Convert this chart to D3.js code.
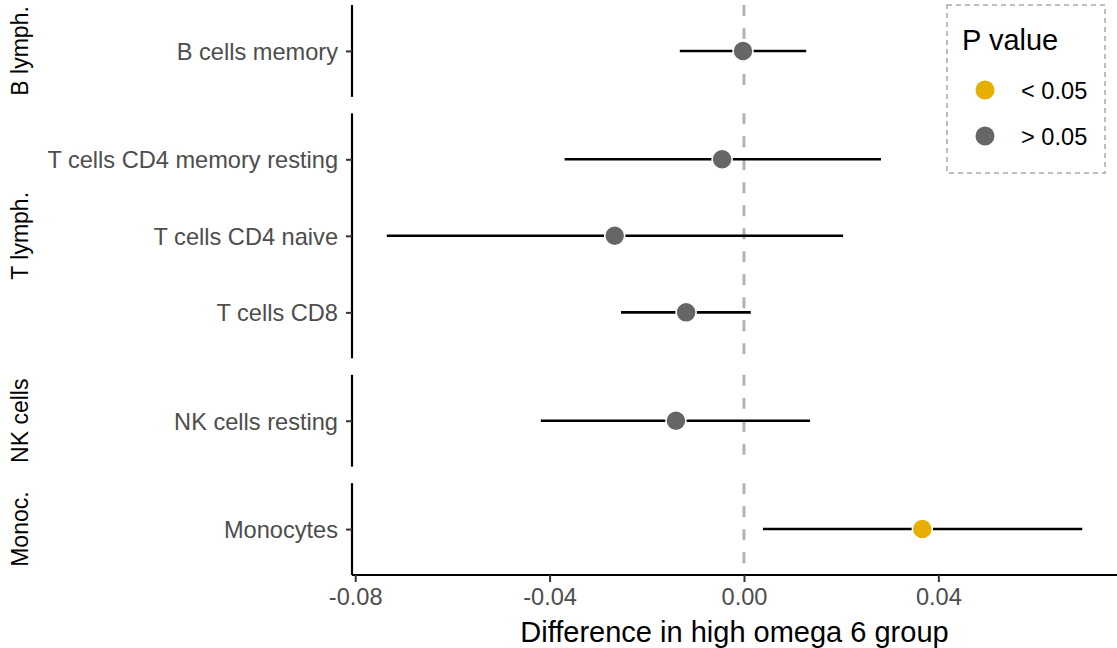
<!DOCTYPE html>
<html>
<head>
<meta charset="utf-8">
<script src="https://cdn.jsdelivr.net/npm/d3@7"></script>
<style>
    body { margin: 0; background: #fff; }
    svg { font-family: "Liberation Sans", Arial, Helvetica, sans-serif; }
</style>
</head>
<body>
<script>
// cell types, grouped by lineage (one facet each)
const groups = ["B lymph.", "T lymph.", "NK cells", "Monoc."];
const cellTypes = ["B cells memory", "T cells CD4 memory resting", "T cells CD4 naive",
                   "T cells CD8", "NK cells resting", "Monocytes"];
const cellGroup = ["B lymph.", "T lymph.", "T lymph.", "T lymph.", "NK cells", "Monoc."];
const estimate = [-0.0002, -0.0045, -0.0266, -0.0119, -0.0140, 0.0367];
const lower    = [-0.0132, -0.0369, -0.0735, -0.0253, -0.0418, 0.0039];
const upper    = [ 0.0128,  0.0282,  0.0204,  0.0014,  0.0136, 0.0696];
const pValue   = ["> 0.05", "> 0.05", "> 0.05", "> 0.05", "> 0.05", "< 0.05"];
const pLevels  = ["< 0.05", "> 0.05"];
const xTicks   = [-0.08, -0.04, 0, 0.04];

const width = 1117, height = 648;
const panel = { left: 352, right: 1117, top: 5, bottom: 575 };
const gap = 16.5;

let data = cellTypes.map((c, i) => ({
    cell: c, group: cellGroup[i], est: estimate[i],
    lo: lower[i], hi: upper[i], p: pValue[i]
}));

let svg = d3.select("body")
    .append("svg")
        .attr("width", width)
        .attr("height", height);

// x scale with ggplot style 5% expansion
let xmin = d3.min(lower), xmax = d3.max(upper);
let pad = (xmax - xmin) * 0.05;
let xScale = d3.scaleLinear()
    .domain([xmin - pad, xmax + pad])
    .range([panel.left, panel.right]);

let colorScale = d3.scaleOrdinal()
    .domain(pLevels)
    .range(["#E7B000", "#666666"]);

// free space facets: height proportional to number of rows + 1.2 expansion
let units = groups.map(g => data.filter(d => d.group == g).length - 1 + 1.2);
let perUnit = (panel.bottom - panel.top - gap * (groups.length - 1)) / d3.sum(units);

let y0 = panel.top;
groups.forEach((g, gi) => {
    let rows = data.filter(d => d.group == g);
    let h = units[gi] * perUnit;
    let yScale = d3.scalePoint()
        .domain(rows.map(d => d.cell))
        .range([y0, y0 + h])
        .padding(0.6);

    let pg = svg.append("g").attr("class", "panel");

    // reference line at zero
    pg.append("line")
        .attr("x1", xScale(0)).attr("x2", xScale(0))
        .attr("y1", y0).attr("y2", y0 + h)
        .attr("stroke", "#b3b3b3")
        .attr("stroke-width", 3)
        .attr("stroke-dasharray", "11,12");

    pg.selectAll("line.ci")
        .data(rows)
        .enter()
            .append("line")
            .attr("class", "ci")
            .attr("x1", d => xScale(d.lo))
            .attr("x2", d => xScale(d.hi))
            .attr("y1", d => yScale(d.cell))
            .attr("y2", d => yScale(d.cell))
            .attr("stroke", "#000")
            .attr("stroke-width", 2.6);

    pg.selectAll("circle")
        .data(rows)
        .enter()
            .append("circle")
            .attr("cx", d => xScale(d.est))
            .attr("cy", d => yScale(d.cell))
            .attr("r", 10)
            .attr("fill", d => colorScale(d.p))
            .attr("stroke", "#fff")
            .attr("stroke-width", 1.5);

    // y axis for this facet
    let yAxis = d3.axisLeft(yScale).tickSize(6).tickPadding(8);
    let ga = svg.append("g")
        .attr("class", "yAxis")
        .attr("transform", `translate(${panel.left}, 0)`)
        .call(yAxis);
    ga.select("path.domain")
        .attr("d", `M0,${y0}V${y0 + h}`)
        .attr("stroke", "#000")
        .attr("stroke-width", 2.2);
    ga.selectAll("g.tick line").attr("stroke", "#333").attr("stroke-width", 2);
    ga.selectAll("g.tick text")
        .attr("fill", "#4d4d4d")
        .style("font-size", "23.6px")
        .attr("dy", "0.36em");

    // strip label on the left
    svg.append("text")
        .attr("transform", `translate(28, ${y0 + h / 2}) rotate(-90)`)
        .attr("text-anchor", "middle")
        .style("font-size", "23px")
        .attr("fill", "#000")
        .text(g);

    y0 += h + gap;
});

// x axis
let xAxis = d3.axisBottom(xScale)
    .tickValues(xTicks)
    .tickSize(7)
    .tickPadding(6);
let gx = svg.append("g")
    .attr("class", "xAxis")
    .attr("transform", `translate(0, ${panel.bottom})`)
    .call(xAxis);
gx.select("path.domain")
    .attr("d", `M${panel.left},0H${panel.right}`)
    .attr("stroke", "#000")
    .attr("stroke-width", 2.2);
gx.selectAll("g.tick line").attr("stroke", "#333").attr("stroke-width", 2);
gx.selectAll("g.tick text")
    .attr("fill", "#4d4d4d")
    .style("font-size", "23.6px")
    .text(d => d3.format(".2f")(d).replace("−", "-"));

svg.append("text")
    .attr("x", (panel.left + panel.right) / 2)
    .attr("y", 642)
    .attr("text-anchor", "middle")
    .style("font-size", "29px")
    .attr("fill", "#000")
    .text("Difference in high omega 6 group");

// legend
let lg = svg.append("g").attr("class", "legend");
lg.append("rect")
    .attr("x", 947).attr("y", 5)
    .attr("width", 158).attr("height", 168)
    .attr("fill", "#fff")
    .attr("stroke", "#bdbdbd")
    .attr("stroke-width", 2)
    .attr("stroke-dasharray", "5,4");
lg.append("text")
    .attr("x", 962).attr("y", 50)
    .style("font-size", "29px")
    .text("P value");
let items = lg.selectAll("g.item")
    .data(pLevels)
    .enter()
        .append("g")
        .attr("class", "item")
        .attr("transform", (d, i) => `translate(0, ${90 + i * 46})`);
items.append("circle")
    .attr("cx", 985).attr("cy", 0).attr("r", 9.5)
    .attr("fill", d => colorScale(d));
items.append("text")
    .attr("x", 1021).attr("y", 0)
    .attr("dy", "0.36em")
    .style("font-size", "23.6px")
    .text(d => d);
</script>
</body>
</html>
